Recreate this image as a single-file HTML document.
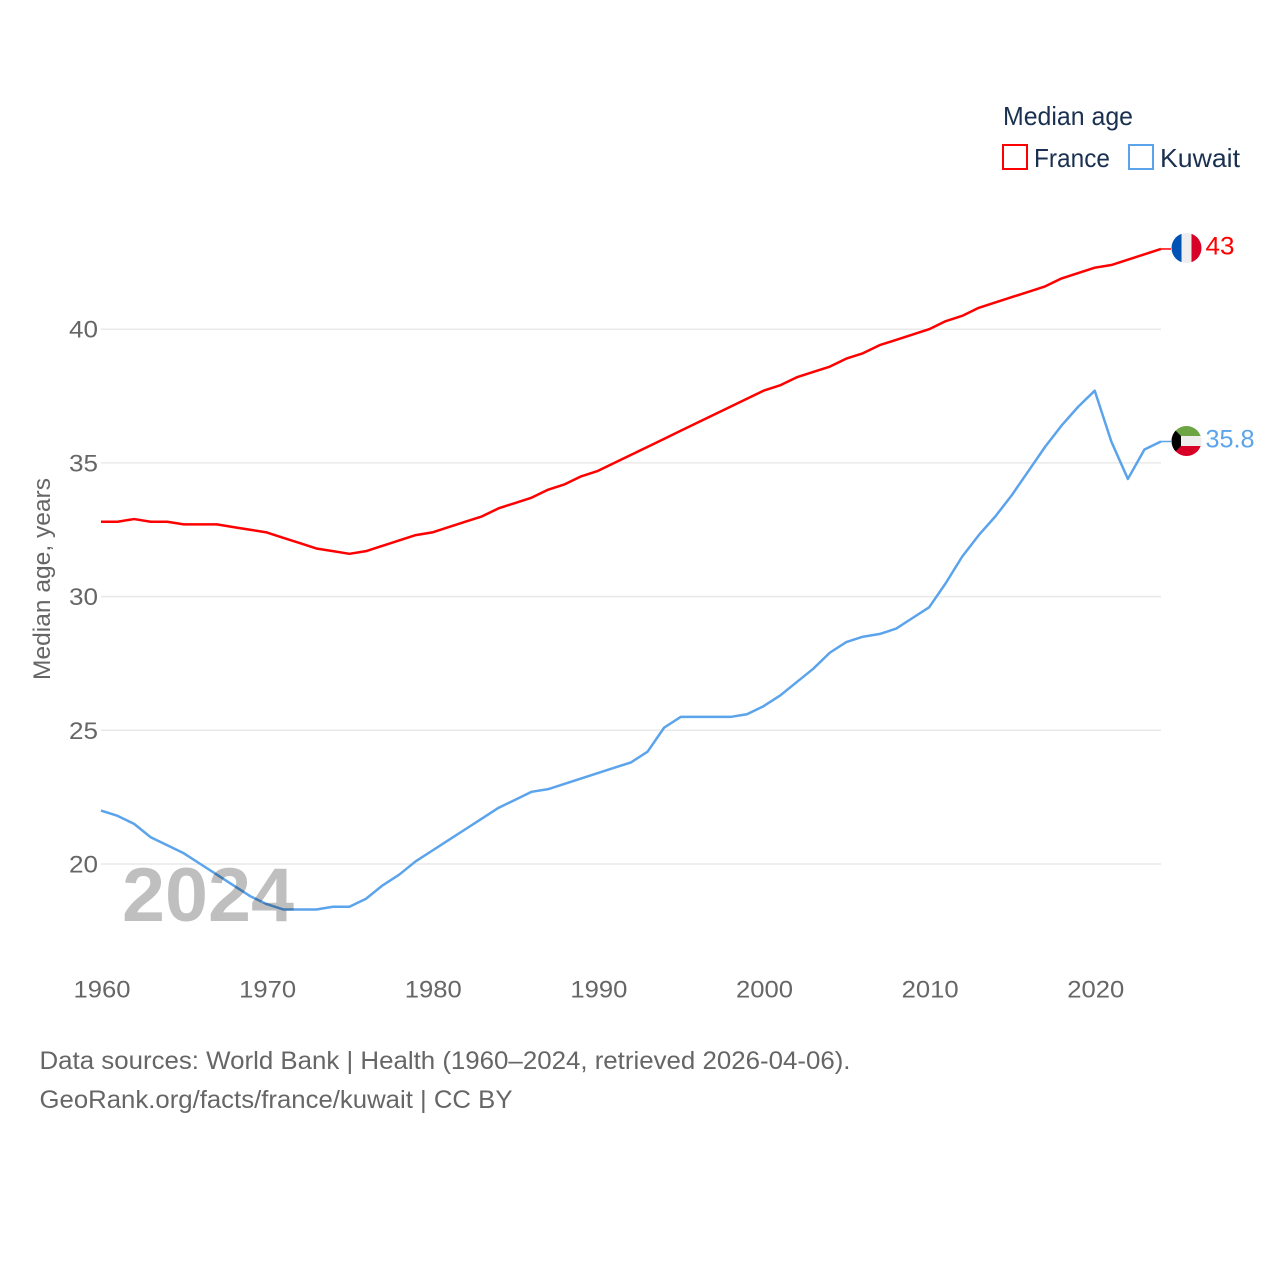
<!DOCTYPE html>
<html lang="en">
<head>
<meta charset="utf-8">
<title>Median age: France and Kuwait</title>
<style>
html,body{margin:0;padding:0;background:#fff;}
svg{display:block;font-family:"Liberation Sans",sans-serif;}
</style>
</head>
<body>
<svg id="chart" xmlns="http://www.w3.org/2000/svg" width="1280" height="1280" viewBox="0 0 1280 1280">
  <defs>
    <clipPath id="clip-fr"><circle cx="1186.5" cy="248" r="15"/></clipPath>
    <clipPath id="clip-kw"><circle cx="1186.5" cy="441" r="15"/></clipPath>
  </defs>
  <rect x="0" y="0" width="1280" height="1280" fill="#ffffff"/>
  <g id="grid"></g>
  <g id="ylabels"></g>
  <g id="xlabels"></g>
  <text transform="translate(50,680) rotate(-90)" font-size="24" fill="#666666" textLength="202" lengthAdjust="spacingAndGlyphs">Median age, years</text>
  <g id="series"></g>
  <text x="122" y="921" font-size="76" font-weight="700" fill="#000000" fill-opacity="0.25" textLength="172" lengthAdjust="spacingAndGlyphs">2024</text>

  <g clip-path="url(#clip-fr)">
    <rect x="1171" y="233" width="10.5" height="30" fill="#0052b4"/>
    <rect x="1181.5" y="233" width="10" height="30" fill="#eeeeee"/>
    <rect x="1191.5" y="233" width="11" height="30" fill="#d80027"/>
  </g>
  <g clip-path="url(#clip-kw)">
    <rect x="1171" y="426" width="31" height="10" fill="#6da544"/>
    <rect x="1171" y="436" width="31" height="10" fill="#eeeeee"/>
    <rect x="1171" y="446" width="31" height="11" fill="#d80027"/>
    <polygon points="1171,426 1171,456 1181,446 1181,436" fill="#000000"/>
  </g>

  <text id="val-fr" x="1205.500" y="254.500" font-size="25" fill="#ff0000" textLength="29" lengthAdjust="spacingAndGlyphs"></text>
  <text id="val-kw" x="1205.500" y="447.500" font-size="25" fill="#5ba4ec" textLength="49" lengthAdjust="spacingAndGlyphs"></text>

  <g>
    <text x="1003" y="125" font-size="26" fill="#1a3050" textLength="130" lengthAdjust="spacingAndGlyphs">Median age</text>
    <g>
      <rect x="1003" y="145" width="24" height="24" fill="#ffffff" stroke="#ff0000" stroke-width="2"/>
      <text x="1034" y="167" font-size="26" fill="#1a3050" textLength="76" lengthAdjust="spacingAndGlyphs">France</text>
    </g>
    <g>
      <rect x="1129" y="145" width="24" height="24" fill="#ffffff" stroke="#5ba4ec" stroke-width="2"/>
      <text x="1160" y="167" font-size="26" fill="#1a3050" textLength="80" lengthAdjust="spacingAndGlyphs">Kuwait</text>
    </g>
  </g>

  <text x="39.500" y="1069" font-size="25" fill="#666666" textLength="811" lengthAdjust="spacingAndGlyphs">Data sources: World Bank | Health (1960–2024, retrieved 2026-04-06).</text>
  <text x="39.500" y="1108" font-size="25" fill="#666666" textLength="473" lengthAdjust="spacingAndGlyphs">GeoRank.org/facts/france/kuwait | CC BY</text>
</svg>
<script>
const startYear = 1960;
const yTicks = [20, 25, 30, 35, 40];
const yTickLabels = ["20", "25", "30", "35", "40"];
const xTicks = [1960, 1970, 1980, 1990, 2000, 2010, 2020];
const xTickLabels = ["1960", "1970", "1980", "1990", "2000", "2010", "2020"];
const franceValues = [32.8,32.8,32.9,32.8,32.8,32.7,32.7,32.7,32.6,32.5,32.4,32.2,32.0,31.8,31.7,31.6,31.7,31.9,32.1,32.3,32.4,32.6,32.8,33.0,33.3,33.5,33.7,34.0,34.2,34.5,34.7,35.0,35.3,35.6,35.9,36.2,36.5,36.8,37.1,37.4,37.7,37.9,38.2,38.4,38.6,38.9,39.1,39.4,39.6,39.8,40.0,40.3,40.5,40.8,41.0,41.2,41.4,41.6,41.9,42.1,42.3,42.4,42.6,42.8,43.0];
const kuwaitValues = [22.0,21.8,21.5,21.0,20.7,20.4,20.0,19.6,19.2,18.8,18.5,18.3,18.3,18.3,18.4,18.4,18.7,19.2,19.6,20.1,20.5,20.9,21.3,21.7,22.1,22.4,22.7,22.8,23.0,23.2,23.4,23.6,23.8,24.2,25.1,25.5,25.5,25.5,25.5,25.6,25.9,26.3,26.8,27.3,27.9,28.3,28.5,28.6,28.8,29.2,29.6,30.5,31.5,32.3,33.0,33.8,34.7,35.6,36.4,37.1,37.7,35.8,34.4,35.5,35.8];
const franceLabel = "43";
const kuwaitLabel = "35.8";

const NS = "http://www.w3.org/2000/svg";
function xScale(year) { return 101 + (year - 1960) * 16.5625; }
function yScale(v) { return 864 - (v - 20) * 26.74; }

const grid = document.getElementById("grid");
const ylabels = document.getElementById("ylabels");
const xlabels = document.getElementById("xlabels");
const series = document.getElementById("series");

yTicks.forEach(function (t, i) {
  const line = document.createElementNS(NS, "line");
  
  
  line.setAttribute("x1", xScale(1960));
  line.setAttribute("x2", xScale(2024));
  line.setAttribute("y1", yScale(t));
  line.setAttribute("y2", yScale(t));
  line.setAttribute("stroke", "#e9e9e9");
  line.setAttribute("stroke-width", "1.5");
  grid.appendChild(line);

  const label = document.createElementNS(NS, "text");
  
  
  label.setAttribute("x", 69);
  label.setAttribute("y", yScale(t) + 8.5);
  label.setAttribute("font-size", "24");
  label.setAttribute("fill", "#666666");
  label.setAttribute("textLength", "29");
  label.setAttribute("lengthAdjust", "spacingAndGlyphs");
  label.textContent = yTickLabels[i];
  ylabels.appendChild(label);
});

xTicks.forEach(function (t, i) {
  const label = document.createElementNS(NS, "text");
  
  
  label.setAttribute("x", xScale(t) - 27.5);
  label.setAttribute("y", 997.5);
  label.setAttribute("font-size", "24");
  label.setAttribute("fill", "#666666");
  label.setAttribute("textLength", "57");
  label.setAttribute("lengthAdjust", "spacingAndGlyphs");
  label.textContent = xTickLabels[i];
  xlabels.appendChild(label);
});

function pathFor(values) {
  return values.map(function (v, i) {
    return (i ? "L" : "M") + xScale(startYear + i).toFixed(2) + " " + yScale(v).toFixed(2);
  }).join(" ");
}

const francePath = document.createElementNS(NS, "path");


francePath.setAttribute("d", pathFor(franceValues));
francePath.setAttribute("fill", "none");
francePath.setAttribute("stroke", "#ff0000");
francePath.setAttribute("stroke-width", "2.5");
francePath.setAttribute("stroke-linejoin", "round");
series.appendChild(francePath);

const kuwaitPath = document.createElementNS(NS, "path");


kuwaitPath.setAttribute("d", pathFor(kuwaitValues));
kuwaitPath.setAttribute("fill", "none");
kuwaitPath.setAttribute("stroke", "#5ba4ec");
kuwaitPath.setAttribute("stroke-width", "2.5");
kuwaitPath.setAttribute("stroke-linejoin", "round");
series.appendChild(kuwaitPath);

const franceLead = document.createElementNS(NS, "line");


franceLead.setAttribute("x1", xScale(2024));
franceLead.setAttribute("x2", xScale(2024) + 10);
franceLead.setAttribute("y1", yScale(franceValues[franceValues.length - 1]));
franceLead.setAttribute("y2", yScale(franceValues[franceValues.length - 1]));
franceLead.setAttribute("stroke", "#ff0000");
franceLead.setAttribute("stroke-width", "1.5");
series.appendChild(franceLead);

const kuwaitLead = document.createElementNS(NS, "line");


kuwaitLead.setAttribute("x1", xScale(2024));
kuwaitLead.setAttribute("x2", xScale(2024) + 10);
kuwaitLead.setAttribute("y1", yScale(kuwaitValues[kuwaitValues.length - 1]));
kuwaitLead.setAttribute("y2", yScale(kuwaitValues[kuwaitValues.length - 1]));
kuwaitLead.setAttribute("stroke", "#5ba4ec");
kuwaitLead.setAttribute("stroke-width", "1.5");
series.appendChild(kuwaitLead);

document.getElementById("val-fr").textContent = franceLabel;
document.getElementById("val-kw").textContent = kuwaitLabel;
</script>
</body>
</html>
